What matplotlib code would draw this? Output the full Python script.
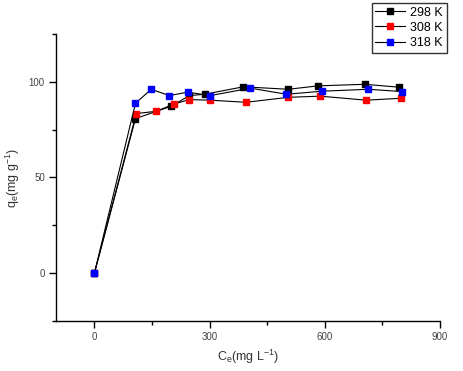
import numpy as np
import matplotlib
matplotlib.use("Agg")
import matplotlib.pyplot as plt
from matplotlib.ticker import MultipleLocator

plt.rcParams['font.family'] = ['Liberation Sans', 'DejaVu Sans']
plt.rcParams['mathtext.fontset'] = 'custom'
plt.rcParams['mathtext.rm'] = 'Liberation Sans'

# adsorption isotherm data
ce_298 = [0, 107, 200, 247, 287, 388, 505, 583, 704, 793]
qe_298 = [0, 80.8, 87.2, 92.8, 93.5, 97.4, 96.1, 97.9, 98.7, 97.2]

ce_308 = [0, 109, 161, 206, 247, 302, 395, 505, 588, 708, 798]
qe_308 = [0, 83.4, 84.6, 88.3, 90.7, 90.4, 89.3, 91.9, 92.5, 90.4, 91.4]

ce_318 = [0, 107, 148, 195, 243, 302, 406, 500, 593, 713, 801]
qe_318 = [0, 88.8, 96.1, 92.8, 94.6, 92.8, 96.7, 93.5, 95.1, 96.1, 94.9]

series = [
    (ce_298, qe_298, '#000000', '298 K'),
    (ce_308, qe_308, '#ff0000', '308 K'),
    (ce_318, qe_318, '#0000ff', '318 K'),
]

fig = plt.figure(figsize=(4.64, 3.71), dpi=100)
ax = fig.add_axes([0.1207, 0.1348, 0.8276, 0.7736])

for x, y, c, lab in series:
    ax.plot(x, y, color='black', lw=0.8, marker='s', ms=4.6,
            mfc=c, mec=c, label=lab)

ax.set_xlim(-100, 900)
ax.set_ylim(-25, 125)
ax.xaxis.set_major_locator(MultipleLocator(300))
ax.xaxis.set_minor_locator(MultipleLocator(150))
ax.yaxis.set_major_locator(MultipleLocator(50))
ax.yaxis.set_minor_locator(MultipleLocator(25))

ax.spines['top'].set_visible(False)
ax.spines['right'].set_visible(False)
for s in ('left', 'bottom'):
    ax.spines[s].set_linewidth(1.0)

ax.tick_params(which='major', direction='out', length=5, width=1,
               labelsize=7, labelcolor='#444444', pad=3)
ax.tick_params(which='minor', direction='out', length=3, width=1)

ax.set_xlabel(r'C$_{\mathregular{e}}$(mg L$^{\mathregular{-1}}$)', fontsize=9,
              color='#333333', va='center')
ax.set_ylabel(r'q$_{\mathregular{e}}$(mg g$^{\mathregular{-1}}$)', fontsize=9,
              color='#333333', va='center')
ax.xaxis.set_label_coords(0.5, -0.125)
ax.yaxis.set_label_coords(-0.112, 0.5)

leg = fig.legend(loc='upper right', bbox_to_anchor=(0.963, 0.992),
                 fontsize=9, frameon=True, fancybox=False, handlelength=2.4,
                 handletextpad=0.4, borderpad=0.3, labelspacing=0.25,
                 borderaxespad=0)
leg.get_frame().set_edgecolor('black')
leg.get_frame().set_linewidth(1.0)

fig.savefig('out.png', dpi=100)
